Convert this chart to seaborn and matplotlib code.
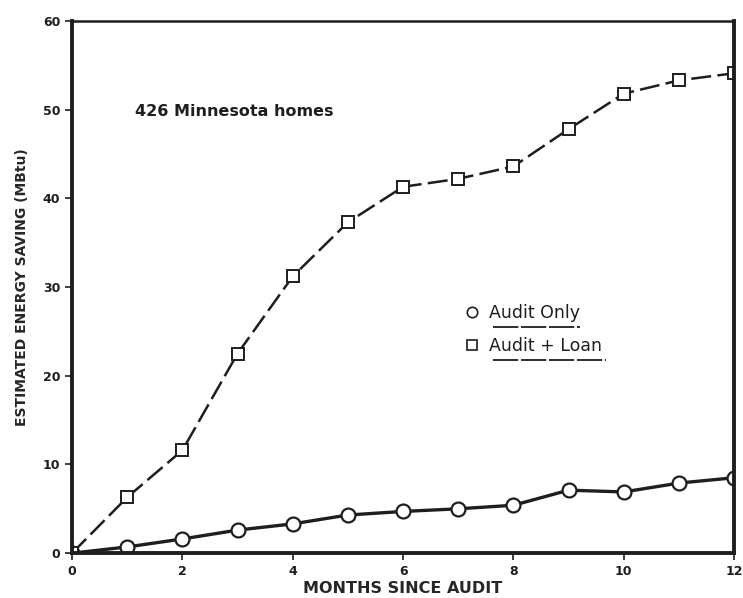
import numpy as np
import pandas as pd
import seaborn as sns
import matplotlib.pyplot as plt
from matplotlib.lines import Line2D

months = list(range(0, 13))
audit_only = [0, 0.7, 1.6, 2.6, 3.3, 4.3, 4.7, 5.0, 5.4, 7.1, 6.9, 7.9, 8.5]
audit_loan = [0, 6.3, 11.6, 22.5, 31.2, 37.3, 41.3, 42.2, 43.6, 47.8, 51.8, 53.3, 54.1]
series_names = ['Audit Only', 'Audit + Loan']
x_ticks = [0, 2, 4, 6, 8, 10, 12]
y_ticks = [0, 10, 20, 30, 40, 50, 60]

df = pd.DataFrame({'month': months, 'Audit Only': audit_only, 'Audit + Loan': audit_loan})

sns.set_style('ticks')
plt.rcParams['font.family'] = ['DejaVu Sans']

fig = plt.figure(figsize=(7.43, 5.98), dpi=100)
ax = fig.add_axes([0.097, 0.075, 0.891, 0.89])

ink = '#1e1e1e'

sns.lineplot(data=df, x='month', y='Audit Only', ax=ax, color=ink, linewidth=2.4,
             marker='o', markersize=10, markerfacecolor='white', markeredgecolor=ink,
             markeredgewidth=1.6)
sns.lineplot(data=df, x='month', y='Audit + Loan', ax=ax, color=ink, linewidth=1.8,
             linestyle=(0, (8, 2.5)), marker='s', markersize=9, markerfacecolor='white',
             markeredgecolor=ink, markeredgewidth=1.4)

ax.set_xlim(0, 12)
ax.set_ylim(0, 60)
ax.set_xticks(x_ticks)
ax.set_yticks(y_ticks)
ax.tick_params(direction='out', length=5, width=1.2, labelsize=9, colors=ink)
for lab in ax.get_xticklabels() + ax.get_yticklabels():
    lab.set_fontweight('bold')

for side in ['left', 'bottom', 'right']:
    ax.spines[side].set_linewidth(2.8)
ax.spines['top'].set_linewidth(1.8)
for s in ax.spines.values():
    s.set_color(ink)

ax.set_xlabel('MONTHS SINCE AUDIT', fontsize=11.5, fontweight='bold', labelpad=2)
ax.set_ylabel('ESTIMATED ENERGY SAVING (MBtu)', fontsize=10, fontweight='bold', labelpad=10)

ax.text(0.095, 0.829, '426 Minnesota homes', transform=ax.transAxes, fontsize=11.5,
        fontweight='bold', color=ink, va='center')

handles = [Line2D([], [], linestyle='none', marker='o', markersize=7.5, markerfacecolor='white',
                  markeredgecolor=ink, markeredgewidth=1.2),
           Line2D([], [], linestyle='none', marker='s', markersize=7.5, markerfacecolor='white',
                  markeredgecolor=ink, markeredgewidth=1.2)]
leg = ax.legend(handles, series_names, loc='center left', bbox_to_anchor=(0.567, 0.42),
                frameon=False, fontsize=12.5, handlelength=1.0, handletextpad=0.5,
                labelspacing=0.85)
for t in leg.get_texts():
    t.set_color(ink)

# underlines below legend labels
ax.plot([0.636, 0.768], [0.425, 0.425], transform=ax.transAxes, color=ink, lw=1.3,
        linestyle=(0, (14, 1.5)), clip_on=False)
ax.plot([0.636, 0.806], [0.363, 0.363], transform=ax.transAxes, color=ink, lw=1.3,
        linestyle=(0, (14, 1.5)), clip_on=False)

plt.savefig('out.png', dpi=100)
